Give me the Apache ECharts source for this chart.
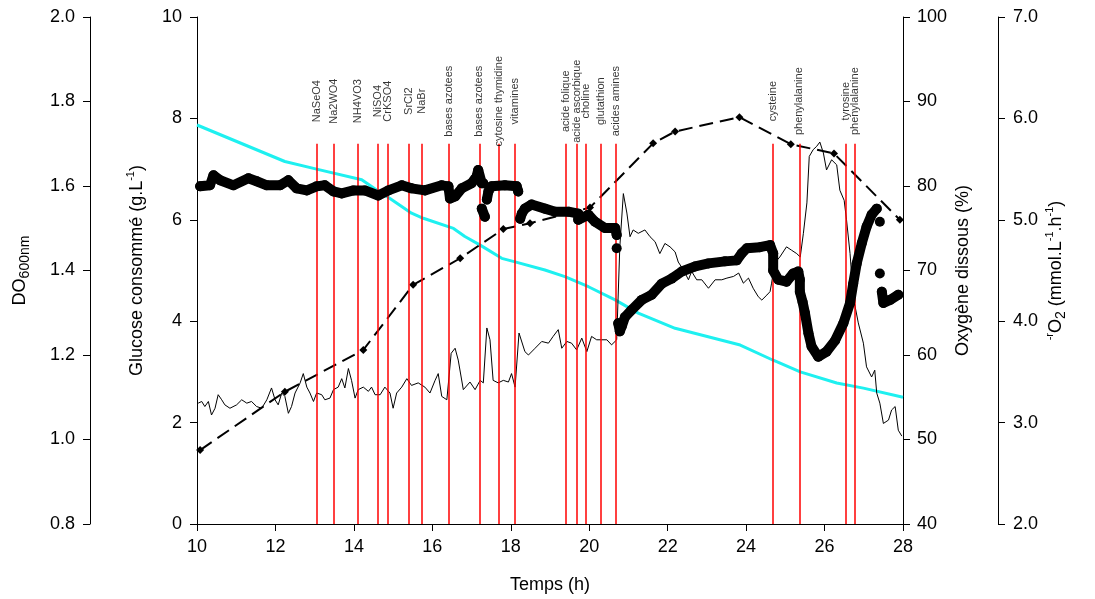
<!DOCTYPE html>
<html><head><meta charset="utf-8">
<script src="https://cdn.jsdelivr.net/npm/echarts@6/dist/echarts.min.js"></script>
<style>html,body{margin:0;padding:0;background:#fff}#c{width:1095px;height:599px}</style>
</head><body><div id="c"></div>
<script>
// ---- data ----
const glucoseT = [10.0, 12.24, 13.05, 14.20, 14.58, 14.92, 15.47, 15.77, 16.54, 16.83, 17.22, 17.77, 18.11, 18.87, 19.38, 19.98, 20.66, 21.25, 22.19, 23.85, 24.69, 25.38, 26.31, 26.99, 28.0];
const glucoseV = [7.87, 7.15, 7.00, 6.79, 6.59, 6.42, 6.13, 6.03, 5.83, 5.67, 5.50, 5.24, 5.17, 5.01, 4.88, 4.68, 4.42, 4.16, 3.86, 3.53, 3.23, 3.00, 2.78, 2.68, 2.50];

const doT = [10.08, 12.24, 14.24, 15.51, 16.71, 17.81, 18.49, 20.02, 21.63, 22.19, 23.83, 25.14, 26.24, 27.92];
const doV = [0.975, 1.113, 1.212, 1.366, 1.429, 1.498, 1.512, 1.549, 1.701, 1.729, 1.763, 1.699, 1.677, 1.520];

const o2T = [10.03,10.12,10.20,10.29,10.37,10.46,10.54,10.63,10.71,10.84,
11.01,11.14,11.27,11.39,11.52,11.65,11.78,11.90,11.99,12.07,
12.16,12.24,12.33,12.41,12.50,12.63,12.71,12.80,12.88,12.97,
13.05,13.18,13.26,13.39,13.48,13.60,13.69,13.77,13.86,13.94,
14.03,14.11,14.24,14.37,14.45,14.54,14.67,14.79,14.92,15.00,
15.09,15.22,15.35,15.47,15.64,15.81,15.94,16.07,16.15,16.24,
16.37,16.48,16.58,16.66,16.79,16.96,17.09,17.22,17.30,17.39,
17.47,17.55,17.68,17.81,17.94,18.02,18.11,18.21,18.36,18.45,
18.62,18.79,18.96,19.08,19.21,19.30,19.43,19.55,19.68,19.81,
19.94,20.06,20.19,20.32,20.45,20.57,20.70,20.78,20.87,20.96,
21.04,21.12,21.25,21.42,21.55,21.68,21.80,21.93,22.06,22.19,
22.27,22.40,22.53,22.61,22.74,22.87,23.04,23.21,23.38,23.51,
23.68,23.81,23.93,24.06,24.18,24.31,24.40,24.53,24.61,24.65,
24.73,24.86,25.03,25.16,25.29,25.38,25.46,25.55,25.61,25.71,
25.80,25.88,25.97,26.05,26.18,26.31,26.39,26.50,26.56,26.65,
26.73,26.86,26.99,27.07,27.20,27.28,27.33,27.41,27.50,27.63,
27.71,27.80,27.88,27.97];
const o2V = [54.3,54.5,53.9,54.5,52.9,53.7,55.3,54.7,54.1,53.7,
54.1,54.7,54.3,54.5,53.9,53.7,54.7,56.1,54.7,54.1,
55.5,55.1,53.1,53.9,55.5,56.7,57.8,56.2,55.5,54.5,
55.5,55.3,54.7,54.9,55.9,56.2,57.2,56.1,58.4,57.0,
54.9,55.9,56.2,55.7,56.2,55.3,55.3,56.2,55.5,53.7,
55.5,56.2,57.2,56.4,56.7,56.2,55.5,57.0,57.8,55.1,
54.7,60.2,60.8,59.4,55.9,56.8,55.9,57.0,56.7,63.2,
61.8,57.0,56.7,57.0,56.8,57.8,56.2,62.6,60.4,60.0,
60.8,61.6,61.4,62.2,63.0,60.8,61.6,61.4,60.6,62.0,
60.4,62.2,61.8,61.8,61.8,61.2,61.8,72.8,79.1,76.8,
74.0,74.8,74.4,74.8,74.0,73.4,72.0,73.2,72.8,72.2,
71.0,70.1,68.9,69.9,68.9,68.9,67.9,68.9,68.9,69.1,
69.3,69.7,68.5,69.1,67.9,66.9,66.5,67.1,67.5,68.5,
70.9,71.6,72.8,72.4,72.0,71.6,74.4,78.0,83.5,84.3,
84.7,85.2,83.9,81.9,83.1,82.5,79.5,78.3,76.0,72.0,
66.9,63.8,61.4,58.6,57.4,58.2,55.5,54.3,51.9,52.3,
53.5,53.9,51.1,50.4];

// null = gap between separate groups of points
const ro2T = [10.08,10.33,10.42,10.59,10.93,11.31,11.52,11.78,12.12,12.33,
12.54,12.80,13.05,13.26,13.48,13.69,13.99,14.28,14.62,14.88,
15.22,15.47,15.81,16.24,16.41,16.45,16.58,16.75,17.00,17.13,
17.17,17.26,17.30,null,17.26,17.34,null,17.39,17.43,17.51,
17.85,18.15,18.19,null,18.24,18.28,18.36,18.53,18.87,19.13,
19.47,19.72,19.72,19.98,20.15,20.40,20.66,20.70,null,20.70,
null,20.74,20.78,20.83,20.91,21.08,21.34,21.59,21.85,22.10,
22.36,22.70,23.04,23.46,23.76,23.89,24.02,24.35,24.61,24.69,
24.69,24.82,25.03,25.20,25.33,25.37,25.37,25.44,25.50,25.59,
25.67,25.84,26.05,26.27,26.48,26.65,26.73,26.82,26.95,27.07,
27.20,27.33,null,27.41,null,27.41,null,27.46,27.50,27.67,
27.88];
const ro2V = [5.33,5.34,5.44,5.39,5.34,5.41,5.38,5.34,5.34,5.39,
5.31,5.29,5.33,5.34,5.28,5.26,5.29,5.29,5.24,5.29,
5.34,5.31,5.29,5.34,5.33,5.21,5.23,5.31,5.36,5.43,
5.49,5.36,5.36,null,5.11,5.03,null,5.20,5.28,5.33,
5.34,5.33,5.28,null,5.01,5.06,5.11,5.15,5.11,5.08,
5.08,5.06,5.00,5.05,4.98,4.92,4.92,4.85,null,4.72,
null,3.98,3.90,3.95,4.04,4.11,4.21,4.26,4.37,4.42,
4.49,4.54,4.57,4.59,4.60,4.67,4.72,4.73,4.75,4.67,
4.50,4.41,4.39,4.47,4.49,4.41,4.29,4.19,4.08,3.88,
3.75,3.65,3.70,3.81,3.98,4.18,4.37,4.57,4.77,4.93,
5.05,5.11,null,4.98,null,4.47,null,4.29,4.18,4.21,
4.26];

const additionT = [13.05, 13.48, 14.11, 14.61, 14.86, 15.41, 15.74, 16.43, 17.20, 17.70, 18.11, 19.41, 19.69, 19.91, 20.29, 20.68, 24.68, 25.36, 26.55, 26.78];
const additionLabels = ['NaSeO4','Na2WO4','NH4VO3','NiSO4','CrKSO4','SrCl2','NaBr','bases azotees','bases azotees','cytosine thymidine','vitamines','acide folique','acide ascorbique','choline','glutathion','acides amines','cysteine','phenylalanine','tyrosine','phenylalanine'];

// ---- layout constants ----
const RED_TOP = 7.5;      // top of addition markers (glucose-axis units)
const LABEL_Y = 8.34;     // label centre (glucose-axis units)
const FONT = '"Liberation Sans", Arial, sans-serif';

const zip = (a, b) => a.map((t, i) => (t === null || b[i] === null) ? ['-', '-'] : [t, b[i]]);

const labelStyle = (margin, formatter) => {
  const s = { color: '#000', fontSize: 18, fontFamily: FONT, margin: margin };
  if (formatter) s.formatter = formatter;
  return s;
};

const axisBase = (extra) => Object.assign({
  type: 'value',
  axisLine: { show: true, onZero: false, lineStyle: { color: '#000', width: 1 } },
  axisTick: { show: true, inside: false, length: 7, lineStyle: { color: '#000', width: 1 } },
  axisLabel: labelStyle(15),
  splitLine: { show: false },
  nameLocation: 'middle',
  nameRotate: 90,
  nameMoveOverlap: false,
  nameTextStyle: {
    color: '#000', fontSize: 18, fontFamily: FONT, lineHeight: 24,
    rich: {
      sup: { fontSize: 11, lineHeight: 11, verticalAlign: 'top', color: '#000', fontFamily: FONT },
      sub: { fontSize: 14, lineHeight: 14, verticalAlign: 'bottom', color: '#000', fontFamily: FONT }
    }
  }
}, extra);

const fix1 = v => v.toFixed(1);

const chart = echarts.init(document.getElementById('c'), null, { renderer: 'canvas' });
chart.setOption({
  animation: false,
  backgroundColor: '#fff',
  grid: { left: 197, right: 192, top: 17, bottom: 75, containLabel: false, outerBoundsMode: 'none' },
  xAxis: axisBase({
    min: 10, max: 28, interval: 2,
    name: 'Temps (h)', nameRotate: 0, nameGap: 49,
    axisLabel: labelStyle(14)
  }),
  yAxis: [
    axisBase({ position: 'left', min: 0, max: 10, interval: 2,
      name: 'Glucose consommé (g.L{sup|-1})', nameGap: 48 }),
    axisBase({ position: 'left', offset: 107, min: 0.8, max: 2.0, interval: 0.2,
      axisLabel: labelStyle(15, fix1),
      name: 'DO{sub|600nm}', nameGap: 58 }),
    axisBase({ position: 'right', min: 40, max: 100, interval: 10,
      axisLabel: labelStyle(14),
      name: 'Oxygène dissous (%)', nameGap: 48 }),
    axisBase({ position: 'right', offset: 95, min: 2, max: 7, interval: 1,
      axisLabel: labelStyle(15, fix1),
      name: '{sup|-r}O{sub|2} (mmol.L{sup|-1}.h{sup|-1})', nameGap: 46 })
  ],
  series: [
    { // addition markers
      type: 'line', yAxisIndex: 0, data: [], z: 1, silent: true,
      markLine: {
        silent: true, animation: false, symbol: ['none', 'none'],
        label: { show: false },
        lineStyle: { color: '#ff0000', width: 1.5, type: 'solid' },
        emphasis: { disabled: true },
        data: additionT.map(t => [{ coord: [t, 0] }, { coord: [t, RED_TOP] }])
      }
    },
    { // glucose
      type: 'line', yAxisIndex: 0, z: 2, data: zip(glucoseT, glucoseV),
      showSymbol: false, lineStyle: { color: '#1ef0f0', width: 3 }, itemStyle: { color: '#1ef0f0' }
    },
    { // dissolved oxygen
      type: 'line', yAxisIndex: 2, z: 3, data: zip(o2T, o2V),
      showSymbol: false, lineStyle: { color: '#000', width: 1 }, itemStyle: { color: '#000' }
    },
    { // DO600
      type: 'line', yAxisIndex: 1, z: 4, data: zip(doT, doV),
      symbol: 'diamond', symbolSize: 8, showSymbol: true,
      lineStyle: { color: '#000', width: 2, type: [14, 7] }, itemStyle: { color: '#000' }
    },
    { // -rO2
      type: 'line', yAxisIndex: 3, z: 5, data: zip(ro2T, ro2V),
      connectNulls: false, symbol: 'circle', symbolSize: 10, showSymbol: true, showAllSymbol: true,
      lineStyle: { color: '#000', width: 10, cap: 'round', join: 'round' }, itemStyle: { color: '#000' }
    },
    { // addition labels
      type: 'scatter', yAxisIndex: 0, z: 6, silent: true,
      symbol: 'circle', symbolSize: 1, itemStyle: { color: 'rgba(0,0,0,0)' },
      data: additionT.map((t, i) => ({ value: [t, LABEL_Y], name: additionLabels[i] })),
      label: { show: true, position: 'inside', rotate: 90, formatter: '{b}',
        color: '#000', fontSize: 11, fontFamily: FONT }
    }
  ]
});
</script>
</body></html>
